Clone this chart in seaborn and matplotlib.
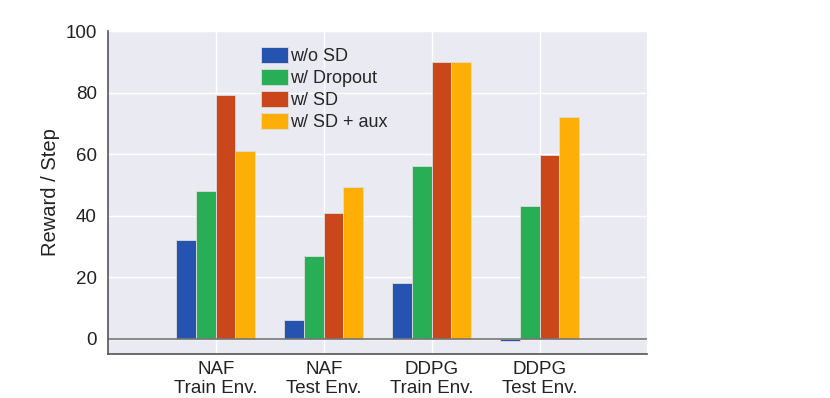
# plot.py
# Grouped bar chart: reward per step for NAF / DDPG with and without SD

import pandas as pd
import seaborn as sns
import matplotlib.pyplot as plt

# data
groups = ["NAF\nTrain Env.", "NAF\nTest Env.", "DDPG\nTrain Env.", "DDPG\nTest Env."]
methods = ["w/o SD", "w/ Dropout", "w/ SD", "w/ SD + aux"]
wo_sd = [32.0, 6.2, 18.0, -0.7]
w_dropout = [48.0, 26.8, 56.3, 43.0]
w_sd = [79.3, 41.0, 89.8, 59.8]
w_sd_aux = [61.0, 49.3, 89.8, 72.2]
colors = ["#2653B0", "#28AF56", "#C9471B", "#FEAF07"]

rows = []
for m, vals in zip(methods, [wo_sd, w_dropout, w_sd, w_sd_aux]):
    for g, v in zip(groups, vals):
        rows.append({"group": g, "method": m, "value": v})
df = pd.DataFrame(rows)

sns.set_style("darkgrid", {"axes.facecolor": "#EAEAF2", "grid.color": "white"})
plt.rcParams["font.family"] = ["Liberation Sans", "DejaVu Sans"]

fig = plt.figure(figsize=(8.3, 3.98), dpi=100)
ax = fig.add_axes([0.130, 0.111, 0.650, 0.811])

sns.barplot(data=df, x="group", y="value", hue="method", order=groups,
            hue_order=methods, palette=colors, width=0.73, gap=0,
            saturation=1, linewidth=0.6, edgecolor="#dddddd", ax=ax)

ax.axhline(0, color="#777777", linewidth=1.2, zorder=1)
ax.set_xlim(-1, 4)
ax.set_ylim(-4.9, 100)
ax.set_yticks([0, 20, 40, 60, 80, 100])
ax.set_xlabel("")
ax.set_ylabel("Reward / Step", fontsize=14.5, color="#222222", labelpad=4)
ax.tick_params(axis="both", labelsize=13.5, colors="#222222", direction="in",
               length=5, width=1, color="#666666")
ax.tick_params(axis="x", pad=5)
ax.tick_params(axis="y", pad=8)
for s in ["left", "bottom"]:
    ax.spines[s].set_visible(True)
    ax.spines[s].set_color("#555555")
    ax.spines[s].set_linewidth(1.2)
for s in ["top", "right"]:
    ax.spines[s].set_visible(False)
ax.grid(True, color="white", linewidth=1)
ax.set_axisbelow(True)

leg = ax.legend(loc="upper left", bbox_to_anchor=(0.283, 0.95), frameon=False,
                fontsize=13, handlelength=1.5, handleheight=1.0,
                handletextpad=0.15, labelspacing=0.2, borderpad=0,
                borderaxespad=0)

fig.savefig("out.png", dpi=100)
